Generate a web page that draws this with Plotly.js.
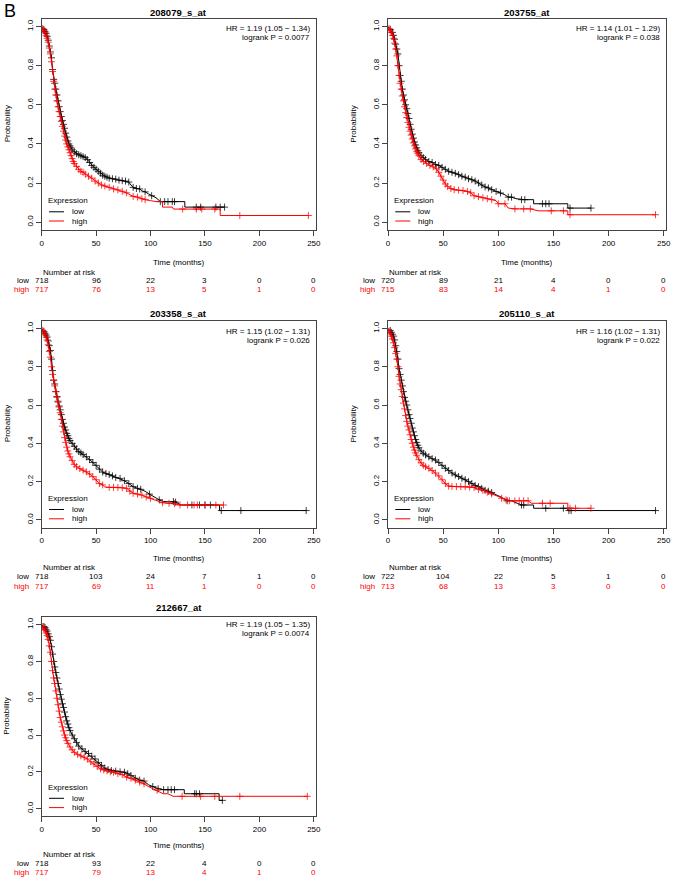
<!DOCTYPE html>
<html><head><meta charset="utf-8">
<script src="https://cdn.plot.ly/plotly-3.0.1.min.js"></script>
<style>html,body{margin:0;padding:0;background:#fff}#chart{width:677px;height:880px}</style>
</head><body><div id="chart"></div>
<script>
// ---------------- data ----------------
const probes = ['208079_s_at','203755_at','203358_s_at','205110_s_at','212667_at'];
const hrLabels = ['HR = 1.19 (1.05 \u2212 1.34)','HR = 1.14 (1.01 \u2212 1.29)','HR = 1.15 (1.02 \u2212 1.31)','HR = 1.16 (1.02 \u2212 1.31)','HR = 1.19 (1.05 \u2212 1.35)'];
const pLabels = ['logrank P = 0.0077','logrank P = 0.038','logrank P = 0.026','logrank P = 0.022','logrank P = 0.0074'];
const groupNames = ['low','high'];
const riskTimes = [0,50,100,150,200,250];
const riskLow  = [[718,96,22,3,0,0],[720,89,21,4,0,0],[718,103,24,7,1,0],[722,104,22,5,1,0],[718,93,22,4,0,0]];
const riskHigh = [[717,76,13,5,1,0],[715,83,14,4,1,0],[717,69,11,1,0,0],[713,68,13,3,0,0],[717,79,13,4,1,0]];

// Kaplan-Meier curves: time (months), survival probability, censor flag per vertex
const p1LowT = [0,2,3,4,5,6,7,8,9,10, 11,12,13,14,15,16,17,18,19,20, 21,22,23,24,25,26,27,28, 30,32,34,36,38,40,42,44,46,48, 50,52,54,56,58,60,62,65,68,71, 74,77,80,82,84,87,90,92,95,98, 101,105,109,113,116,120,122,131.5,131.5,142, 146,160,164,168];
const p1LowS = [1,0.985,0.975,0.965,0.95,0.93,0.90,0.87,0.84,0.78, 0.73,0.71,0.68,0.65,0.62,0.59,0.565,0.54,0.52,0.50, 0.48,0.455,0.435,0.415,0.40,0.39,0.38,0.37, 0.36,0.35,0.345,0.34,0.335,0.33,0.32,0.305,0.29,0.28, 0.27,0.26,0.25,0.24,0.235,0.23,0.225,0.222,0.22,0.215, 0.212,0.21,0.205,0.19,0.178,0.172,0.17,0.16,0.155,0.145, 0.135,0.125,0.105,0.105,0.105,0.105,0.105,0.105,0.077,0.077, 0.077,0.077,0.077,0.077];
const p1LowC = '0111111111 1111111111 11111111 1111111111 1111111111 1110111010 1011111001 1111';
const p1HighT = [0,1,2,3,4,5,6,7,8,9, 10,11,12,13,14,15,16,17,18,19, 20,21,22,23,24,25,26,27,28,29, 30,32,34,36,38,40,43,46,49,52, 55,58,62,66,70,74,78,81,84,88, 92,95,100,105,111,111,120,121,129.5,142, 147,159,164,164,182,245];
const p1HighS = [1,0.99,0.98,0.97,0.955,0.94,0.92,0.89,0.86,0.82, 0.77,0.72,0.68,0.65,0.62,0.59,0.565,0.54,0.515,0.49, 0.465,0.44,0.42,0.40,0.385,0.37,0.355,0.34,0.325,0.31, 0.30,0.285,0.27,0.26,0.255,0.245,0.235,0.225,0.21,0.20, 0.19,0.185,0.178,0.17,0.165,0.158,0.15,0.14,0.132,0.128, 0.12,0.115,0.11,0.105,0.105,0.077,0.077,0.067,0.067,0.067, 0.067,0.067,0.067,0.034,0.034,0.034];
const p1HighC = '0111111111 1111111111 1111111111 1111111111 1111111011 1100000011 110011';

const p2LowT = [0,2,4,5,6,7,8,9,10,11, 12,13,14,15,16,17,18,19,20,21, 22,23,24,25,26,27,28,30,32,34, 37,40,43,46,49,52,55,58,61,64, 67,70,73,76,79,82,85,88,91,94, 98,102,106,109,112,116,121,124,132,132, 140,143,146,163,163,165,184];
const p2LowS = [1,0.985,0.97,0.955,0.935,0.91,0.885,0.86,0.80,0.75, 0.72,0.68,0.65,0.625,0.60,0.58,0.555,0.53,0.50,0.475, 0.45,0.43,0.41,0.395,0.38,0.365,0.355,0.34,0.33,0.32, 0.31,0.305,0.295,0.29,0.28,0.27,0.26,0.255,0.25,0.243, 0.235,0.23,0.222,0.217,0.21,0.20,0.19,0.18,0.175,0.166, 0.157,0.149,0.14,0.128,0.128,0.12,0.115,0.115,0.115,0.094, 0.094,0.094,0.094,0.094,0.072,0.072,0.072];
const p2LowC = '0111111111 1111111111 1111111111 1111111111 1111111111 1101101100 1110011';
const p2HighT = [0,1,2,3,4,5,6,7,8,9, 10,11,12,13,14,15,16,17,18,19, 20,21,22,23,24,25,26,27,28,30, 32,35,38,41,44,46,48,50,52,54, 57,60,64,68,72,75,78,82,86,90, 94,98,100,106,109,115,123,129,136,148, 159,163,163,165,242.5];
const p2HighS = [1,0.99,0.98,0.97,0.955,0.94,0.915,0.885,0.85,0.80, 0.75,0.71,0.68,0.645,0.62,0.59,0.56,0.535,0.51,0.485, 0.465,0.445,0.425,0.405,0.39,0.375,0.36,0.35,0.34,0.32, 0.31,0.30,0.29,0.283,0.272,0.255,0.235,0.215,0.195,0.183, 0.172,0.166,0.164,0.162,0.157,0.15,0.135,0.13,0.125,0.12, 0.115,0.11,0.094,0.094,0.072,0.068,0.068,0.068,0.058,0.058, 0.058,0.058,0.038,0.038,0.038];
const p2HighC = '0111111111 1111111111 1111111111 1111111111 1111111111 1011011101 10011';

const p3LowT = [0,2,3,4,5,6,7,8,9,10, 11,12,13,14,15,16,17,18,19,20, 21,22,23,24,25,26,28,30,32,34, 36,38,41,44,47,50,53,56,59,62, 65,68,72,76,80,84,88,91,95,99, 103,108,112,121,123,128,138,145,150,155, 163.4,163.4,165,183,243];
const p3LowS = [1,0.985,0.975,0.965,0.955,0.935,0.91,0.885,0.84,0.78, 0.73,0.71,0.67,0.645,0.62,0.595,0.575,0.55,0.525,0.505, 0.485,0.47,0.452,0.44,0.425,0.415,0.40,0.385,0.37,0.357, 0.35,0.342,0.33,0.315,0.30,0.285,0.265,0.25,0.243,0.237, 0.23,0.222,0.217,0.205,0.19,0.174,0.165,0.16,0.15,0.135, 0.12,0.105,0.096,0.096,0.093,0.078,0.078,0.078,0.078,0.078, 0.078,0.049,0.049,0.049,0.049];
const p3LowC = '0111111111 1111111111 1111111111 1111111111 1111111101 0101101111 00111';
const p3HighT = [0,1,2,3,4,5,6,7,8,9, 10,11,12,13,14,15,16,17,18,19, 20,21,22,23,24,25,26,28,30,32, 35,38,41,44,47,50,53,56,58,62, 66,70,74,78,81,84,88,92,96,100, 106,111,117,122,127,134,140,143,150,160, 167];
const p3HighS = [1,0.99,0.98,0.97,0.955,0.94,0.915,0.88,0.85,0.80, 0.76,0.73,0.70,0.67,0.64,0.615,0.59,0.56,0.525,0.49, 0.46,0.43,0.405,0.38,0.36,0.345,0.33,0.31,0.29,0.278, 0.268,0.26,0.252,0.24,0.226,0.21,0.19,0.183,0.172,0.17, 0.17,0.17,0.168,0.165,0.15,0.139,0.135,0.13,0.12,0.113, 0.10,0.09,0.087,0.085,0.078,0.078,0.078,0.078,0.078,0.078, 0.078];
const p3HighC = '0111111111 1111111111 1111111111 1111111101 1111111111 0111111111 1';

const p4LowT = [0,2,3,4,5,6,7,8,9,10, 11,12,13,14,15,16,17,18,19,20, 21,22,23,24,25,26,27,28,30,32, 34,37,40,43,46,49,52,55,58,61, 64,67,70,73,76,79,82,85,88,91, 94,98,103,108,112,116,121,123,132,132, 143,159,163,163,164,166,242.5];
const p4LowS = [1,0.99,0.98,0.97,0.96,0.94,0.91,0.88,0.84,0.79, 0.76,0.73,0.70,0.67,0.64,0.62,0.60,0.575,0.55,0.53, 0.505,0.48,0.46,0.44,0.42,0.405,0.39,0.377,0.36,0.348, 0.34,0.33,0.32,0.313,0.30,0.285,0.27,0.258,0.245,0.235, 0.227,0.218,0.21,0.20,0.19,0.18,0.174,0.165,0.155,0.15, 0.143,0.13,0.118,0.10,0.10,0.09,0.078,0.078,0.078,0.061, 0.061,0.061,0.061,0.049,0.049,0.049,0.049];
const p4LowC = '0111111111 1111111111 1111111111 1111111111 1111111111 1001001100 1100111';
const p4HighT = [0,1,2,3,4,5,6,7,8,9, 10,11,12,13,14,15,16,17,18,19, 20,21,22,23,24,25,26,28,30,32, 34,37,40,43,46,49,52,55,58,62, 66,70,74,78,82,86,90,94,98,103, 107,110,115,119,123,127,130,140,147,163, 163,165,170,184];
const p4HighS = [1,0.985,0.975,0.96,0.945,0.925,0.90,0.87,0.84,0.80, 0.75,0.71,0.68,0.645,0.61,0.58,0.545,0.515,0.49,0.47, 0.445,0.42,0.40,0.38,0.365,0.35,0.338,0.315,0.298,0.285, 0.278,0.27,0.258,0.245,0.23,0.21,0.19,0.177,0.175,0.174, 0.174,0.174,0.172,0.17,0.16,0.155,0.145,0.136,0.125,0.113, 0.105,0.10,0.10,0.10,0.10,0.10,0.087,0.087,0.087,0.087, 0.061,0.061,0.061,0.061];
const p4HighC = '0111111111 1111111111 1111111111 1111111111 1111111101 1111110110 0111';

const p5LowT = [0,2,3,4,5,6,7,8,9,10, 11,12,13,14,15,16,17,18,19,20, 21,22,23,24,25,26,28,30,32,34, 37,40,43,46,49,52,55,58,61,64, 68,72,76,79,82,86,90,94,98,102, 107,112,116,119,122,131,131,140.5,142,145, 163,163,166];
const p5LowS = [1,0.99,0.985,0.975,0.965,0.95,0.935,0.915,0.88,0.84, 0.80,0.77,0.74,0.71,0.68,0.65,0.62,0.595,0.57,0.55, 0.525,0.50,0.477,0.46,0.44,0.425,0.40,0.38,0.36,0.34, 0.325,0.31,0.30,0.285,0.27,0.25,0.235,0.22,0.212,0.207, 0.204,0.20,0.198,0.19,0.18,0.165,0.155,0.15,0.13,0.12, 0.108,0.103,0.103,0.103,0.103,0.103,0.081,0.081,0.081,0.081, 0.081,0.045,0.045];
const p5LowC = '0111111111 1111111111 1111111111 1111111111 1111111101 1111100111 001';
const p5HighT = [0,1,2,3,4,5,6,7,8,9, 10,11,12,13,14,15,16,17,18,19, 20,21,22,23,24,26,28,30,33,36, 39,42,45,48,51,54,57,60,63,66, 70,74,78,82,86,90,94,98,102,106, 111.6,116,120.7,129,146,159,182,244];
const p5HighS = [1,0.99,0.98,0.97,0.955,0.94,0.92,0.885,0.85,0.80, 0.75,0.71,0.68,0.64,0.60,0.565,0.53,0.495,0.47,0.445, 0.423,0.40,0.385,0.37,0.355,0.335,0.32,0.306,0.295,0.287, 0.28,0.27,0.255,0.243,0.23,0.216,0.21,0.205,0.20,0.198, 0.19,0.185,0.171,0.165,0.155,0.144,0.135,0.12,0.108,0.10, 0.081,0.081,0.067,0.067,0.067,0.067,0.067,0.067];
const p5HighC = '0111111111 1111111111 1111111111 1111111111 1111111001 00011111';

// ---------------- layout helpers ----------------
const W = 677, H = 880;
const FONT = '"Liberation Sans", Arial, Helvetica, sans-serif';
const RED = '#FF0000', BLK = '#000000';
const FS = 8;
const curves = [
  [[p1LowT,p1LowS,p1LowC],[p1HighT,p1HighS,p1HighC]],
  [[p2LowT,p2LowS,p2LowC],[p2HighT,p2HighS,p2HighC]],
  [[p3LowT,p3LowS,p3LowC],[p3HighT,p3HighS,p3HighC]],
  [[p4LowT,p4LowS,p4LowC],[p4HighT,p4HighS,p4HighC]],
  [[p5LowT,p5LowS,p5LowC],[p5HighT,p5HighS,p5HighC]]
];
// panel boxes in pixels and text rows
const boxes = [
  {l:41.7,r:316,t:18.7,b:230,  title:12.5, hr1:28,    hr2:37.5,  legE:200.3, legL:211.8, legH:221,   time:262,   nar:272,   rl:280.5, rh:289.5, ylab:7},
  {l:388, r:666,t:18.7,b:230,  title:12.5, hr1:28,    hr2:37.5,  legE:200.3, legL:211.8, legH:221,   time:262,   nar:272,   rl:280.5, rh:289.5, ylab:353.3},
  {l:41.7,r:316,t:320.8,b:527.6,title:313, hr1:331.3, hr2:340.8, legE:498.5, legL:509.5, legH:518.8, time:558.3, nar:567.3, rl:576.7, rh:586,   ylab:7},
  {l:388, r:666,t:320.8,b:527.6,title:313, hr1:331.3, hr2:340.8, legE:498.5, legL:509.5, legH:518.8, time:558.3, nar:567.3, rl:576.7, rh:586,   ylab:353.3},
  {l:41.7,r:316,t:617.3,b:816, title:607.3, hr1:624,  hr2:633.5, legE:787,   legL:798.3, legH:807.6, time:845.7, nar:854,   rl:863.3, rh:872,   ylab:7}
];
const px = v => v / W;
const py = v => 1 - v / H;

const traces = [], annotations = [], shapes = [];
const layout = {
  width: W, height: H, margin: {l:0,r:0,t:0,b:0},
  paper_bgcolor: '#fff', plot_bgcolor: '#fff', showlegend: false,
  font: {family: FONT, size: FS, color: '#000'}
};
const txtFont = (c) => ({family: FONT, size: FS, color: c || '#000'});

annotations.push({text:'B', xref:'paper', yref:'paper', x:px(2), y:py(11), xanchor:'left', yanchor:'middle',
  showarrow:false, font:{family:FONT, size:18, color:'#000'}});

boxes.forEach((b, i) => {
  const sfx = i === 0 ? '' : String(i + 1);
  const xa = 'x' + sfx, ya = 'y' + sfx;
  layout['xaxis' + sfx] = {
    domain: [px(b.l), px(b.r)], range: [0, 252], anchor: ya,
    tickvals: riskTimes, ticks: 'outside', ticklen: 5, tickwidth: 1, tickcolor: '#444',
    showline: true, mirror: true, linecolor: '#444', linewidth: 1,
    showgrid: false, zeroline: false, fixedrange: true,
    tickfont: txtFont()
  };
  layout['yaxis' + sfx] = {
    domain: [py(b.b), py(b.t)], range: [-0.04, 1.04], anchor: xa,
    tickvals: [0,0.2,0.4,0.6,0.8,1.0], tickformat: '.1f', tickangle: -90,
    ticks: 'outside', ticklen: 5, tickwidth: 1, tickcolor: '#444',
    showline: true, mirror: true, linecolor: '#444', linewidth: 1,
    showgrid: false, zeroline: false, fixedrange: true,
    tickfont: txtFont()
  };

  curves[i].forEach((c, g) => {
    const [T, S, Cstr] = c;
    const C = Cstr.replace(/\s/g, '').split('').map(Number);
    const col = g === 0 ? BLK : RED;
    traces.push({x: T, y: S, xaxis: xa, yaxis: ya, type: 'scatter', mode: 'lines',
      line: {color: col, width: 1}, hoverinfo: 'skip'});
    const cx = [], cy = [];
    T.forEach((t, k) => { if (C[k] === 1) { cx.push(t); cy.push(S[k]); } });
    traces.push({x: cx, y: cy, xaxis: xa, yaxis: ya, type: 'scatter', mode: 'markers',
      marker: {symbol: 'cross-thin-open', size: 5, color: col, opacity: 0.85, line: {color: col, width: 0.9}},
      hoverinfo: 'skip'});
  });

  const cxm = (b.l + b.r) / 2;
  annotations.push({text: '<b>' + probes[i] + '</b>', xref:'paper', yref:'paper', x: px(cxm), y: py(b.title),
    xanchor:'center', yanchor:'middle', showarrow:false, font:{family:FONT, size:9.5, color:'#000'}});
  annotations.push({text: hrLabels[i], xref:'paper', yref:'paper', x: px(b.r - 4.3), y: py(b.hr1),
    xanchor:'right', yanchor:'middle', showarrow:false, font: txtFont('#000')});
  annotations.push({text: pLabels[i], xref:'paper', yref:'paper', x: px(b.r - 4.3), y: py(b.hr2),
    xanchor:'right', yanchor:'middle', showarrow:false, font: txtFont('#000')});
  annotations.push({text: 'Probability', xref:'paper', yref:'paper', x: px(b.ylab), y: py((b.t + b.b) / 2),
    xanchor:'center', yanchor:'middle', textangle: -90, showarrow:false, font: txtFont('#000')});
  annotations.push({text: 'Time (months)', xref:'paper', yref:'paper', x: px(cxm), y: py(b.time),
    xanchor:'center', yanchor:'middle', showarrow:false, font: txtFont('#000')});
  // legend
  annotations.push({text: 'Expression', xref:'paper', yref:'paper', x: px(b.l + 4), y: py(b.legE),
    xanchor:'left', yanchor:'middle', showarrow:false, font: txtFont('#000')});
  [[groupNames[0], b.legL, BLK], [groupNames[1], b.legH, RED]].forEach(([nm, yy, col]) => {
    shapes.push({type:'line', xref:'paper', yref:'paper', x0: px(b.l + 7.3), x1: px(b.l + 22.3), y0: py(yy), y1: py(yy),
      line:{color: col, width: 1}});
    annotations.push({text: nm, xref:'paper', yref:'paper', x: px(b.l + 28.5), y: py(yy),
      xanchor:'left', yanchor:'middle', showarrow:false, font: txtFont('#000')});
  });
  // number at risk table
  annotations.push({text: 'Number at risk', xref:'paper', yref:'paper', x: px(b.l - 0.5), y: py(b.nar),
    xanchor:'left', yanchor:'middle', showarrow:false, font: txtFont('#000')});
  annotations.push({text: groupNames[0], xref:'paper', yref:'paper', x: px(b.l - 11), y: py(b.rl),
    xanchor:'right', yanchor:'middle', showarrow:false, font: txtFont(BLK)});
  annotations.push({text: groupNames[1], xref:'paper', yref:'paper', x: px(b.l - 11), y: py(b.rh),
    xanchor:'right', yanchor:'middle', showarrow:false, font: txtFont(RED)});
  riskTimes.forEach((t, k) => {
    annotations.push({text: String(riskLow[i][k]), xref: xa, yref:'paper', x: t, y: py(b.rl),
      xanchor:'center', yanchor:'middle', showarrow:false, font: txtFont(BLK)});
    annotations.push({text: String(riskHigh[i][k]), xref: xa, yref:'paper', x: t, y: py(b.rh),
      xanchor:'center', yanchor:'middle', showarrow:false, font: txtFont(RED)});
  });
});

layout.annotations = annotations;
layout.shapes = shapes;
Plotly.newPlot('chart', traces, layout, {staticPlot: true, displayModeBar: false});
</script>
</body></html>
